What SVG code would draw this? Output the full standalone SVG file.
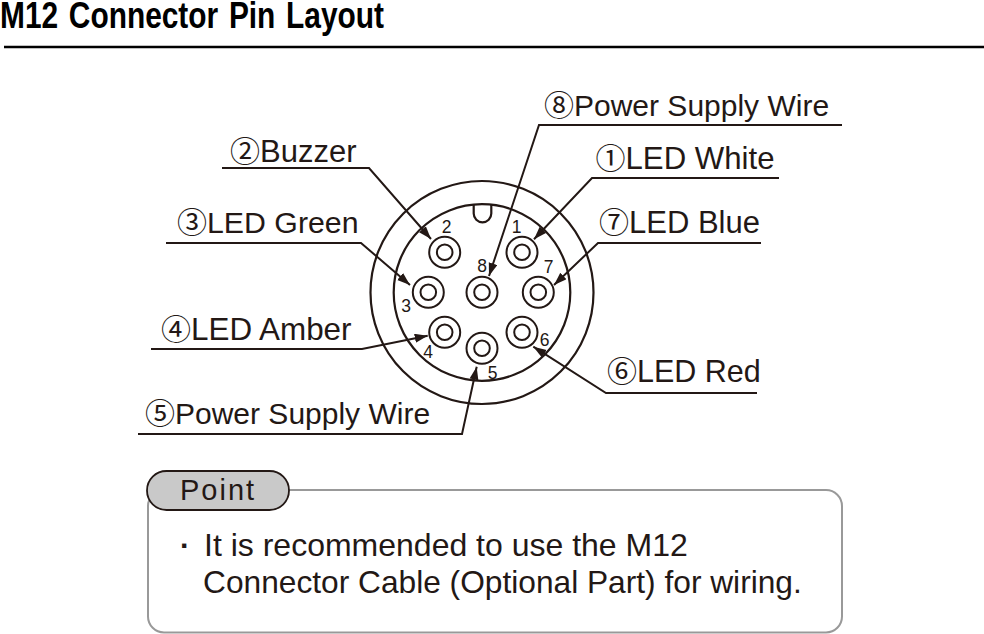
<svg xmlns="http://www.w3.org/2000/svg" width="984" height="634" viewBox="0 0 984 634">
<style>
text{font-family:"Liberation Sans","Noto Sans CJK JP",sans-serif;fill:#231815}
.d{font-size:30px}
.num{font-size:17.5px;text-anchor:middle}
.note{font-size:31.700px}
.c{fill:none;stroke:#231815;stroke-width:2.2}
.p{fill:none;stroke:#231815;stroke-width:2}
.l{fill:none;stroke:#231815;stroke-width:2;marker-end:url(#a)}
</style>
<defs>
<marker id="a" markerUnits="userSpaceOnUse" markerWidth="14" markerHeight="10" refX="13" refY="4.5" orient="auto"><path d="M0,0L13,4.5L0,9Z" fill="#231815"/></marker>
<g id="pin"><circle class="p" r="15.5"/><circle class="p" r="7.8"/></g>
</defs>
<rect width="984" height="634" fill="#fff"/>
<g id="title">
<text x="0" y="28" font-size="37.500" font-weight="700" textLength="384" lengthAdjust="spacingAndGlyphs" word-spacing="3" style="fill:#000">M12 Connector Pin Layout</text>
<path d="M4 47H984" stroke="#000" stroke-width="2.6"/>
</g>
<g id="connector">
<circle class="c" cx="482" cy="292.5" r="111.5"/>
<circle class="c" cx="482" cy="292.5" r="88.3"/>
<path class="c" d="M473.7 205V213.5A8.8 8.8 0 0 0 491.3 213.5V205"/>
</g>
<g id="pin1"><use href="#pin" x="522" y="252.3"/><text class="num" x="516.7" y="233">1</text></g>
<g id="pin2"><use href="#pin" x="444.7" y="252.3"/><text class="num" x="446.7" y="233">2</text></g>
<g id="pin3"><use href="#pin" x="428.3" y="292.3"/><text class="num" x="406" y="312">3</text></g>
<g id="pin4"><use href="#pin" x="444.7" y="332.3"/><text class="num" x="428" y="358">4</text></g>
<g id="pin5"><use href="#pin" x="482" y="348.3"/><text class="num" x="492.5" y="379">5</text></g>
<g id="pin6"><use href="#pin" x="522" y="332.3"/><text class="num" x="544.5" y="346">6</text></g>
<g id="pin7"><use href="#pin" x="538.3" y="292.3"/><text class="num" x="548.5" y="273">7</text></g>
<g id="pin8"><use href="#pin" x="482" y="292.3"/><text class="num" x="482" y="272">8</text></g>
<g id="connectors">
<path class="l" d="M222 168H369L431 239"/>
<path class="l" d="M166 243H361L410 285"/>
<path class="l" d="M151 349H362L427.7 335.7"/>
<path class="l" d="M138 434H462L476.7 366.7"/>
<path class="l" d="M842 125H539L489 276"/>
<path class="l" d="M779 178H592L534 239.3"/>
<path class="l" d="M761 243H598L554 285"/>
<path class="l" d="M757 393H606L533.3 346.7"/>
</g>
<g id="label2"><text x="230" y="162" font-size="31"><tspan class="d">②</tspan>Buzzer</text></g>
<g id="label3"><text x="177" y="233" font-size="30.300"><tspan class="d">③</tspan>LED Green</text></g>
<g id="label4"><text x="161" y="340" font-size="31.400"><tspan class="d">④</tspan>LED Amber</text></g>
<g id="label5"><text x="145" y="424" font-size="30"><tspan class="d">⑤</tspan>Power Supply Wire</text></g>
<g id="label8"><text x="544" y="116" font-size="30"><tspan class="d">⑧</tspan>Power Supply Wire</text></g>
<g id="label1"><text x="595.500" y="169" font-size="31.200"><tspan class="d">①</tspan>LED White</text></g>
<g id="label7"><text x="599" y="233" font-size="31"><tspan class="d">⑦</tspan>LED Blue</text></g>
<g id="label6"><text x="607" y="382" font-size="30.500"><tspan class="d">⑥</tspan>LED Red</text></g>
<g id="point">
<rect x="148" y="490" width="694" height="142.500" rx="16" fill="#fff" stroke="#999" stroke-width="2"/>
<rect x="147" y="471" width="142" height="39" rx="19.500" fill="#c9c9c9" stroke="#231815" stroke-width="1.800"/>
<text x="180" y="500" font-size="29" letter-spacing="2">Point</text>
<text x="180" y="556" font-size="30" font-weight="700">·</text>
<text class="note" x="204" y="556" style="font-size:32px">It is recommended to use the M12</text>
<text class="note" x="203" y="593">Connector Cable (Optional Part) for wiring.</text>
</g>
</svg>
